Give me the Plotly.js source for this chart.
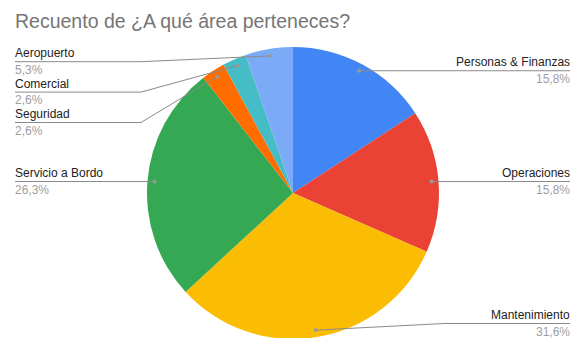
<!DOCTYPE html>
<html>
<head>
<meta charset="utf-8">
<script src="https://cdn.plot.ly/plotly-3.0.1.min.js"></script>
<style>
html,body{margin:0;padding:0;overflow:hidden;background:#fff;}
#chart{width:572px;height:340px;}
</style>
</head>
<body>
<div id="chart"></div>
<script>
// ---- data ----
const titleText = 'Recuento de ¿A qué área perteneces?';
const categories = ['Personas & Finanzas', 'Operaciones', 'Mantenimiento', 'Servicio a Bordo', 'Seguridad', 'Comercial', 'Aeropuerto'];
const counts = [6, 6, 12, 10, 1, 1, 2];
const sliceColors = ['#4285F4', '#EA4335', '#FBBC04', '#34A853', '#FF6D01', '#46BDC6', '#7BAAF7'];

// ---- geometry ----
const W = 572, H = 340;
const CX = 293, CY = 193, R = 146;
const DOT_R = 139;
const GAP = 30.4, MINY = 61.7, MAXY = 323.5;
const LEFT_X = 15, RIGHT_X = 570;
const FONT = 'Liberation Sans, Arial, sans-serif';

const px = x => x / W;
const py = y => 1 - y / H;

const total = counts.reduce((a, b) => a + b, 0);
let cum = 0;
const items = counts.map((c, i) => {
  const mid = (cum + c / 2) / total * 2 * Math.PI;
  cum += c;
  const dx = Math.sin(mid) * DOT_R, dy = -Math.cos(mid) * DOT_R;
  return {
    i, label: categories[i],
    pct: (c / total * 100).toFixed(1).replace('.', ',') + '%',
    dotX: CX + dx, dotY: CY + dy,
    side: mid < Math.PI ? 'right' : 'left'
  };
});

['left', 'right'].forEach(side => {
  const s = items.filter(it => it.side === side).sort((a, b) => a.dotY - b.dotY);
  let prev = -Infinity;
  s.forEach(it => { it.ly = Math.max(it.dotY, prev + GAP, MINY); prev = it.ly; });
  let next = Infinity;
  for (let k = s.length - 1; k >= 0; k--) { s[k].ly = Math.min(s[k].ly, next - GAP, MAXY); next = s[k].ly; }
});

const shapes = [];
const annotations = [];
const lineStyle = {color: '#8a8a8a', width: 1};
items.forEach(it => {
  const edge = it.side === 'right' ? RIGHT_X : LEFT_X;
  const bendX = it.side === 'right' ? CX + R + 5 : CX - R - 6;
  if (Math.abs(it.ly - it.dotY) < 1) {
    shapes.push({type: 'line', xref: 'paper', yref: 'paper', x0: px(it.dotX), y0: py(it.ly), x1: px(edge), y1: py(it.ly), line: lineStyle});
  } else {
    shapes.push({type: 'line', xref: 'paper', yref: 'paper', x0: px(it.dotX), y0: py(it.dotY), x1: px(bendX), y1: py(it.ly), line: lineStyle});
    shapes.push({type: 'line', xref: 'paper', yref: 'paper', x0: px(bendX), y0: py(it.ly), x1: px(edge), y1: py(it.ly), line: lineStyle});
  }
  shapes.push({type: 'circle', xref: 'paper', yref: 'paper', x0: px(it.dotX - 2), x1: px(it.dotX + 2), y0: py(it.dotY - 2), y1: py(it.dotY + 2), fillcolor: '#999999', line: {width: 0}});
  const anchor = it.side === 'right' ? 'right' : 'left';
  annotations.push({xref: 'paper', yref: 'paper', x: px(edge), y: py(it.ly - 8.5), xanchor: anchor, yanchor: 'middle', showarrow: false, text: it.label, borderpad: 0, borderwidth: 0, font: {family: FONT, size: 12, color: '#222222'}});
  annotations.push({xref: 'paper', yref: 'paper', x: px(edge), y: py(it.ly + 8), xanchor: anchor, yanchor: 'middle', showarrow: false, text: it.pct, borderpad: 0, borderwidth: 0, font: {family: FONT, size: 12, color: '#9e9e9e'}});
});

const trace = {
  type: 'pie',
  labels: categories,
  values: counts,
  sort: false,
  direction: 'clockwise',
  rotation: 0,
  textinfo: 'none',
  hoverinfo: 'skip',
  marker: {colors: sliceColors, line: {color: '#ffffff', width: 0}},
  domain: {x: [(CX - R) / W, (CX + R) / W], y: [1 - (CY + R) / H, 1 - (CY - R) / H]},
  showlegend: false
};

const layout = {
  width: W, height: H,
  margin: {l: 0, r: 0, t: 0, b: 0},
  paper_bgcolor: '#ffffff',
  showlegend: false,
  title: {text: titleText, x: px(15), xanchor: 'left', xref: 'paper', y: py(21), yanchor: 'middle', yref: 'paper', font: {family: FONT, size: 19.5, color: '#757575'}},
  shapes, annotations
};

Plotly.newPlot('chart', [trace], layout, {staticPlot: true, displayModeBar: false});
</script>
</body>
</html>
